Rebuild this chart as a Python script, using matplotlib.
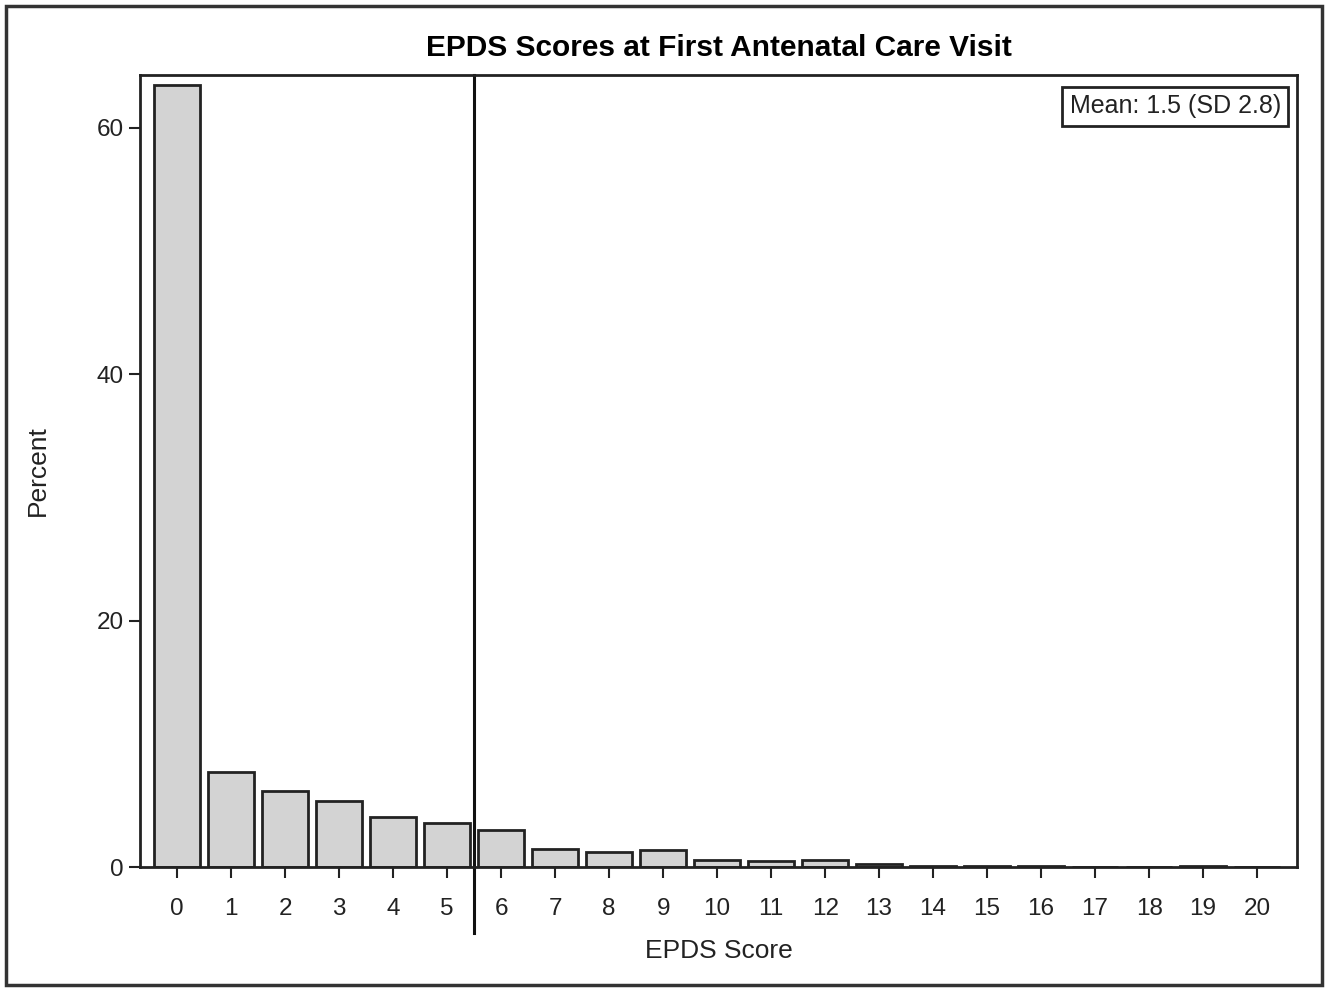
import matplotlib.pyplot as plt
from matplotlib.patches import Rectangle

# EPDS score distribution (percent of women per score)
scores = list(range(0, 21))
percent = [63.5, 7.7, 6.2, 5.35, 4.05, 3.55, 3.0, 1.45, 1.2, 1.35, 0.6,
           0.45, 0.6, 0.25, 0.12, 0.12, 0.12, 0.0, 0.0, 0.12, 0.0]
cutoff = 5.5
mean_label = "Mean: 1.5 (SD 2.8)"

plt.rcParams['font.family'] = ['Liberation Sans Narrow', 'Liberation Sans', 'DejaVu Sans']

fig = plt.figure(figsize=(13.29, 9.9), dpi=100)
ax = fig.add_axes([140 / 1329, 1 - 867 / 990, (1297 - 140) / 1329, (867 - 75) / 990])

ax.bar(scores, percent, width=0.85, color='#d3d3d3', edgecolor='#222222', linewidth=2)
ax.set_xlim(-0.69, 20.74)
ax.set_ylim(0, 64.3)
ax.set_xticks(scores)
ax.set_yticks([0, 20, 40, 60])
ax.tick_params(axis='both', labelsize=17.5, length=8, width=1.5, colors='#222222')
ax.tick_params(axis='x', pad=14)
for s in ax.spines.values():
    s.set_linewidth(2)
    s.set_color('#222222')

# cut-off line, runs down past the axis
ax.axvline(cutoff, ymin=-0.083, ymax=1, color='#111111', linewidth=2.2, clip_on=False)

ax.set_xlabel("EPDS Score", fontsize=19, color='#222222', labelpad=14)
ax.set_ylabel("Percent", fontsize=19, color='#222222', labelpad=34)
ax.set_title("EPDS Scores at First Antenatal Care Visit", fontsize=21.5, fontweight='bold',
             family=['Liberation Sans', 'DejaVu Sans'], pad=14)

ax.text(0.986, 0.976, mean_label, transform=ax.transAxes, ha='right', va='top', fontsize=18,
        color='#222222',
        bbox=dict(boxstyle='square,pad=0.3', facecolor='white', edgecolor='#222222', linewidth=2))

# outer frame of the figure
fig.patches.append(Rectangle((6 / 1329, 5 / 990), 1 - 13 / 1329, 1 - 11 / 990,
                             transform=fig.transFigure, fill=False, edgecolor='#333333',
                             linewidth=2.5))

fig.savefig("out.png", dpi=100)
